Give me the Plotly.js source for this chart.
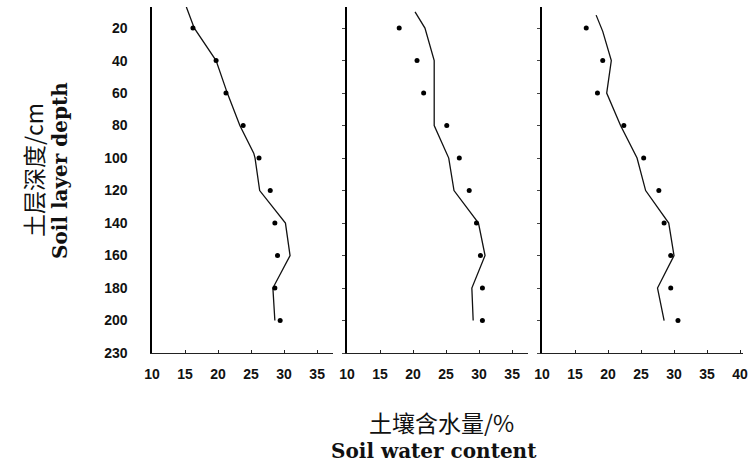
<!DOCTYPE html>
<html>
<head>
<meta charset="utf-8">
<script src="https://cdn.plot.ly/plotly-3.0.1.min.js"></script>
<style>html,body{margin:0;padding:0;background:#fff;}#chart{width:753px;height:469px;}</style>
</head>
<body>
<div id="chart"></div>
<script>
// Observed soil water content (%) at each depth (cm)
const depths = [20, 40, 60, 80, 100, 120, 140, 160, 180, 200];
const obs1 = [16.2, 19.7, 21.2, 23.8, 26.2, 27.9, 28.6, 29.0, 28.6, 29.4];
const obs2 = [17.9, 20.6, 21.6, 25.1, 27.0, 28.5, 29.6, 30.2, 30.5, 30.5];
const obs3 = [16.7, 19.2, 18.4, 22.4, 25.4, 27.7, 28.5, 29.5, 29.5, 30.6];

// Simulated profiles (line)
const simDepth1 = [7, 20, 40, 60, 80, 97, 100, 120, 140, 160, 180, 200];
const sim1 = [15.2, 16.4, 19.7, 21.4, 23.3, 25.4, 25.6, 26.3, 30.2, 30.9, 28.3, 28.6];
const simDepth2 = [10, 20, 40, 80, 100, 120, 140, 160, 180, 200];
const sim2 = [20.3, 21.8, 23.2, 23.2, 25.4, 26.2, 29.9, 30.9, 28.9, 29.1];
const simDepth3 = [12, 22, 40, 60, 80, 100, 120, 140, 160, 180, 200];
const sim3 = [18.2, 19.2, 20.5, 19.8, 21.9, 24.4, 25.7, 29.2, 30.0, 27.5, 28.5];

const yTickVals = [20, 40, 60, 80, 100, 120, 140, 160, 180, 200, 220];
const yTickText = ['20', '40', '60', '80', '100', '120', '140', '160', '180', '200', '230'];
const xTicks12 = [10, 15, 20, 25, 30, 35];
const xTicks3 = [10, 15, 20, 25, 30, 35, 40];

const W = 753, H = 469;
const tickFont = {family: 'Liberation Sans, Arial, sans-serif', size: 14, color: '#111', weight: 700};

function lineTrace(x, y, xa, ya) {
  return {x: x, y: y, xaxis: xa, yaxis: ya, type: 'scatter', mode: 'lines',
    line: {color: '#111', width: 1.3}, showlegend: false, hoverinfo: 'skip'};
}
function dotTrace(x, y, xa, ya) {
  return {x: x, y: y, xaxis: xa, yaxis: ya, type: 'scatter', mode: 'markers',
    marker: {color: '#000', size: 5}, showlegend: false, hoverinfo: 'skip'};
}

const data = [
  lineTrace(sim1, simDepth1, 'x', 'y'), dotTrace(obs1, depths, 'x', 'y'),
  lineTrace(sim2, simDepth2, 'x2', 'y2'), dotTrace(obs2, depths, 'x2', 'y2'),
  lineTrace(sim3, simDepth3, 'x3', 'y3'), dotTrace(obs3, depths, 'x3', 'y3')
];

const yDomain = [1 - 353 / H, 1 - 7 / H];
const yRange = [220, 7];

function xAxis(d0, d1, range, ticks, anchor) {
  return {domain: [d0 / W, d1 / W], range: range, anchor: anchor,
    showgrid: false, zeroline: false, showline: true, linecolor: '#222', linewidth: 1,
    ticks: 'inside', ticklen: 3, tickcolor: '#222', tickvals: ticks,
    tickfont: tickFont, ticklabelstandoff: 8, fixedrange: true};
}
function yAxis(anchor, labels) {
  return {domain: yDomain, range: yRange, anchor: anchor,
    showgrid: false, zeroline: false, showline: true, linecolor: '#000', linewidth: 1.6,
    ticks: labels ? '' : 'outside', ticklen: 3, tickcolor: '#444',
    tickvals: yTickVals, ticktext: yTickText, showticklabels: labels,
    tickfont: tickFont, ticklabelstandoff: 20, fixedrange: true};
}

const layout = {
  width: W, height: H,
  margin: {l: 0, r: 0, t: 0, b: 0},
  paper_bgcolor: '#fff', plot_bgcolor: '#fff',
  xaxis: xAxis(152, 333, [10, 37.4], xTicks12, 'y'),
  xaxis2: xAxis(347, 528, [10, 37.4], xTicks12, 'y2'),
  xaxis3: xAxis(542, 743, [10, 40.45], xTicks3, 'y3'),
  yaxis: yAxis('x', true),
  yaxis2: yAxis('x2', false),
  yaxis3: yAxis('x3', false),
  annotations: [
    {text: '土层深度/cm', xref: 'paper', yref: 'paper', x: 33 / W, y: 1 - 170 / H,
     textangle: -90, showarrow: false, xanchor: 'center', yanchor: 'middle',
     font: {family: 'Noto Sans CJK SC', size: 23, color: '#111'}},
    {text: '<b>Soil layer depth</b>', xref: 'paper', yref: 'paper', x: 60 / W, y: 1 - 171 / H,
     textangle: -90, showarrow: false, xanchor: 'center', yanchor: 'middle',
     font: {family: 'DejaVu Serif', size: 20, color: '#111'}},
    {text: '土壤含水量/%', xref: 'paper', yref: 'paper', x: 441 / W, y: 1 - 422 / H,
     showarrow: false, xanchor: 'center', yanchor: 'middle',
     font: {family: 'Noto Sans CJK SC', size: 23, color: '#111'}},
    {text: '<b>Soil water content</b>', xref: 'paper', yref: 'paper', x: 434 / W, y: 1 - 451 / H,
     showarrow: false, xanchor: 'center', yanchor: 'middle',
     font: {family: 'DejaVu Serif', size: 20, color: '#111'}}
  ]
};

Plotly.newPlot('chart', data, layout, {displayModeBar: false, staticPlot: true});
</script>
</body>
</html>
